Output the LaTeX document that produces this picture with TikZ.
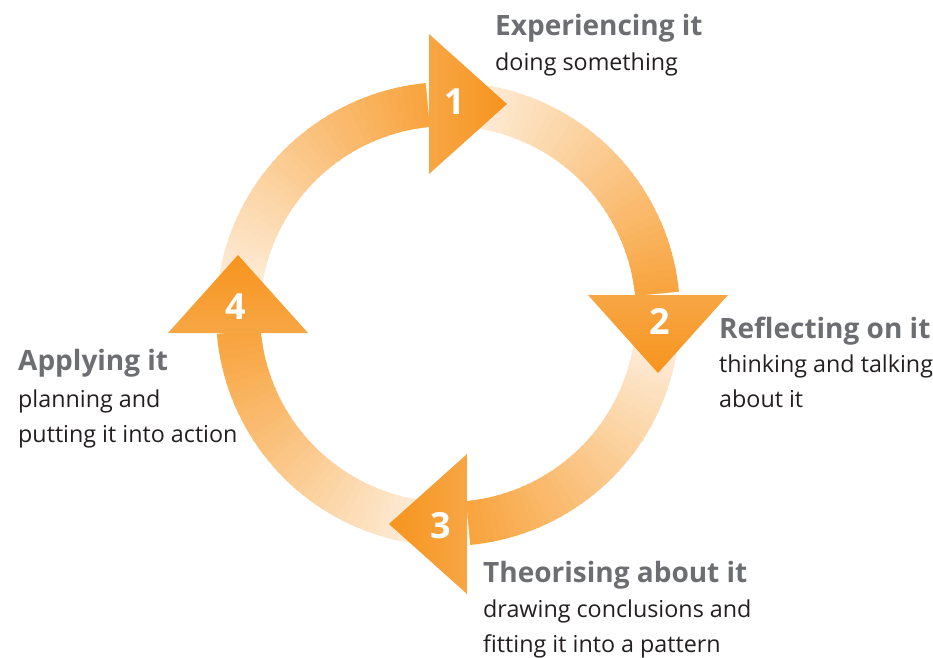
\documentclass[tikz,border=0pt]{standalone}
\usepackage{fontspec}
\setmainfont{Open Sans}

\definecolor{cycleorange}{HTML}{F7941D}
\definecolor{tiplight}{HTML}{F7A645}
\definecolor{titlegray}{HTML}{6D6E71}
\definecolor{notetext}{HTML}{231F20}

\tikzset{
    title/.style={anchor=base west, inner sep=0pt, text=titlegray, font=\fontsize{28}{34}\selectfont\bfseries},
    note/.style={anchor=base west, inner sep=0pt, text=notetext, align=left, font=\fontsize{23.3}{35}\selectfont},
    number/.style={text=white, font=\fontsize{36}{40}\selectfont\bfseries}
}

\begin{document}
\begin{tikzpicture}[x=1pt,y=1pt]
    \useasboundingbox (-448,-343) rectangle (485,314);

    % ring, four quarter arcs, pale at the start and orange at the end
    \foreach \k in {0,1,2,3}{
        \foreach \i in {0,...,44}{
            \pgfmathsetmacro{\a}{185.5-90*\k-2*\i}
            \pgfmathsetmacro{\b}{\a-2.6}
            \pgfmathsetmacro{\p}{5+80*\i/44}
            \fill[cycleorange!\p!white] (\a:232) arc[start angle=\a,end angle=\b,radius=232]
                -- (\b:188) arc[start angle=\b,end angle=\a,radius=188] -- cycle;
        }
    }

    % arrow heads with their numbers
    \foreach \k/\n in {0/1,1/2,2/3,3/4}{
        \pgfmathsetmacro{\sa}{90-90*\k}
        \begin{scope}[rotate=-90*\k]
            \shade[top color=tiplight, bottom color=cycleorange, shading angle=\sa]
                (-19,280) -- (59,210) -- (-19,140) -- cycle;
            \node[number] (num\n) at (7,212) {\n};
        \end{scope}
    }

    % labels (a note's base is its last line)
    \node[title] (title1) at (47,279) {Experiencing it};
    \node[note] (note1) at (47,244) {doing something};
    \node[title] (title2) at (271,-24) {Reflecting on it};
    \node[note] (note2) at (271,-93) {thinking and talking\\about it};
    \node[title] (title3) at (35,-268) {Theorising about it};
    \node[note] (note3) at (35,-338) {drawing conclusions and\\fitting it into a pattern};
    \node[title] (title4) at (-430,-56) {Applying it};
    \node[note] (note4) at (-430,-128) {planning and\\putting it into action};

\end{tikzpicture}
\end{document}
